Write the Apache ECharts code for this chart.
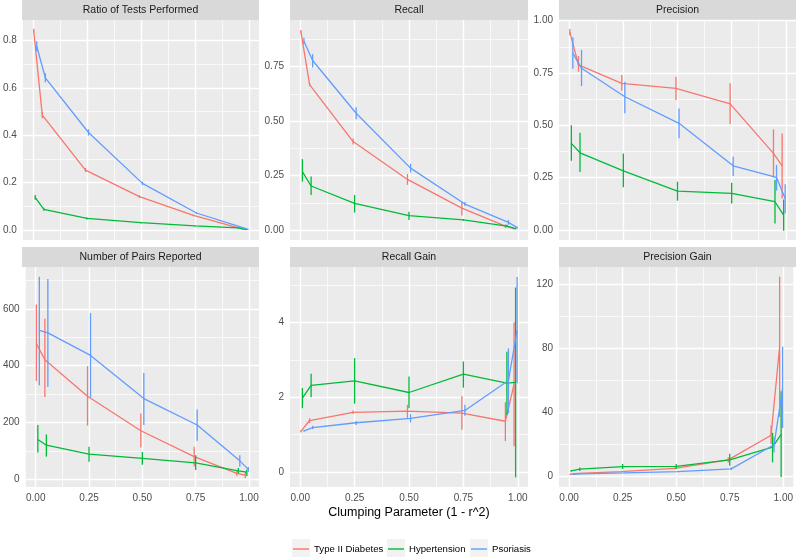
<!DOCTYPE html>
<html><head><meta charset="utf-8">
<script src="https://cdn.jsdelivr.net/npm/echarts@6/dist/echarts.min.js"></script>
<style>html,body{margin:0;padding:0;background:#fff}#c{width:796px;height:558px}</style>
</head><body><div id="c"></div>
<script>
// ---------- data ----------
const clumpX = [0.01, 0.05, 0.25, 0.5, 0.75, 0.95, 0.99];
const groupNames = ['Type II Diabetes', 'Hypertension', 'Psoriasis'];
const groupColors = ['#F8766D', '#00BA38', '#619CFF'];
const dodge = [-0.007, 0, 0.007];
const panelTitles = ['Ratio of Tests Performed', 'Recall', 'Precision', 'Number of Pairs Reported', 'Recall Gain', 'Precision Gain'];

const xTicks = [0, 0.25, 0.5, 0.75, 1];
const xTickLabels = ['0.00', '0.25', '0.50', '0.75', '1.00'];
const xMinor = [0.125, 0.375, 0.625, 0.875];
const xRange = [-0.047, 1.047];

// each row: [mean, lower, upper]
const ratioT2D = [[0.842,0.834,0.850],[0.485,0.472,0.498],[0.253,0.245,0.262],[0.141,0.136,0.147],[0.062,0.058,0.066],[0.011,0.008,0.014],[0.002,0.001,0.003]];
const ratioHT  = [[0.138,0.128,0.148],[0.087,0.081,0.094],[0.049,0.045,0.053],[0.031,0.028,0.034],[0.018,0.016,0.020],[0.009,0.008,0.010],[0.002,0.001,0.003]];
const ratioPso = [[0.776,0.755,0.797],[0.643,0.624,0.662],[0.412,0.399,0.425],[0.197,0.190,0.204],[0.072,0.068,0.076],[0.014,0.012,0.016],[0.003,0.002,0.004]];

const recallT2D = [[0.912,0.905,0.918],[0.667,0.660,0.675],[0.406,0.393,0.420],[0.232,0.207,0.257],[0.100,0.066,0.132],[0.018,0.010,0.026],[0.006,0.003,0.009]];
const recallHT  = [[0.268,0.222,0.325],[0.202,0.161,0.245],[0.122,0.080,0.161],[0.066,0.046,0.084],[0.046,0.042,0.050],[0.018,0.012,0.024],[0.006,0.002,0.010]];
const recallPso = [[0.866,0.853,0.882],[0.778,0.746,0.807],[0.536,0.508,0.563],[0.284,0.264,0.304],[0.119,0.110,0.128],[0.035,0.024,0.046],[0.011,0.006,0.016]];

const precT2D = [[0.945,0.930,0.960],[0.788,0.756,0.831],[0.700,0.665,0.740],[0.676,0.620,0.732],[0.602,0.506,0.700],[0.365,0.250,0.480],[0.306,0.150,0.460]];
const precHT  = [[0.413,0.330,0.500],[0.368,0.276,0.464],[0.282,0.203,0.365],[0.185,0.139,0.230],[0.174,0.126,0.225],[0.134,0.030,0.238],[0.070,-0.005,0.145]];
const precPso = [[0.844,0.770,0.920],[0.772,0.687,0.860],[0.636,0.557,0.708],[0.509,0.437,0.580],[0.306,0.257,0.349],[0.250,0.187,0.310],[0.150,0.078,0.218]];

const pairsT2D = [[477,346,615],[421,290,565],[292,189,398],[171,112,232],[80,45,115],[21,12,30],[15,4,27]];
const pairsHT  = [[140,94,191],[120,80,158],[89,62,115],[74,51,96],[58,33,85],[30,21,40],[25,12,35]];
const pairsPso = [[524,331,713],[515,325,705],[436,288,585],[284,191,374],[191,136,246],[65,44,85],[35,27,43]];

const rgainT2D = [[1.09,1.06,1.12],[1.38,1.31,1.44],[1.60,1.56,1.65],[1.63,1.45,1.80],[1.58,1.13,2.03],[1.36,0.83,1.87],[2.35,0.69,4.01]];
const rgainHT  = [[1.98,1.71,2.25],[2.32,2.00,2.63],[2.44,1.83,3.05],[2.13,1.71,2.56],[2.62,2.26,2.96],[2.38,1.53,3.22],[2.40,-0.14,4.94]];
const rgainPso = [[1.10,1.08,1.12],[1.19,1.15,1.24],[1.32,1.26,1.37],[1.44,1.33,1.55],[1.65,1.51,1.80],[2.45,1.58,3.31],[3.80,2.38,5.22]];

const pgainT2D = [[1.0,0.9,1.1],[1.6,1.4,1.8],[2.6,2.3,2.9],[4.7,4.2,5.2],[10.0,8.3,11.7],[25.5,20.0,31.5],[81.0,37.0,125.0]];
const pgainHT  = [[3.1,2.5,3.7],[4.2,3.1,5.2],[5.8,4.2,7.5],[5.9,4.3,7.5],[10.0,6.3,13.8],[18.0,8.5,27.0],[26.0,-0.8,53.0]];
const pgainPso = [[1.0,0.9,1.1],[1.2,1.1,1.3],[1.8,1.6,2.0],[2.7,2.4,3.0],[4.4,3.6,5.2],[19.5,14.6,24.5],[55.0,30.0,81.0]];

// y scales / tick labels per panel
const ratioTicks = [0, 0.2, 0.4, 0.6, 0.8];       const ratioLabels = ['0.0','0.2','0.4','0.6','0.8'];
const recallTicks = [0, 0.25, 0.5, 0.75];          const recallLabels = ['0.00','0.25','0.50','0.75'];
const precTicks = [0, 0.25, 0.5, 0.75, 1];         const precLabels = ['0.00','0.25','0.50','0.75','1.00'];
const pairsTicks = [0, 200, 400, 600];             const pairsLabels = ['0','200','400','600'];
const rgainTicks = [0, 2, 4];                      const rgainLabels = ['0','2','4'];
const pgainTicks = [0, 40, 80, 120];               const pgainLabels = ['0','40','80','120'];
const ratioMinor = [0.1, 0.3, 0.5, 0.7];
const recallMinor = [0.125, 0.375, 0.625, 0.875];
const precMinor = [0.125, 0.375, 0.625, 0.875];
const pairsMinor = [100, 300, 500, 700];
const rgainMinor = [1, 3, 5];
const pgainMinor = [20, 60, 100];
const ratioRange = [-0.042, 0.887];
const recallRange = [-0.046, 0.964];
const precRange = [-0.049, 1.003];
const pairsRange = [-27, 747];
const rgainRange = [-0.40, 5.49];
const pgainRange = [-7.0, 131.0];

// ---------- layout / style ----------
const FONT = '"Liberation Sans", Arial, Helvetica, sans-serif';
const colLeft = [22, 290, 559];
const colWidth = [237, 238, 237];
const rowTop = [20, 267];
const panelH = 220;
const stripH = 20;
const legendKeyX = [292, 387, 470];
const MAJOR_W = 1.4, MINOR_W = 0.7;

const panels = [
  {data: [ratioT2D, ratioHT, ratioPso], ticks: ratioTicks, labels: ratioLabels, minor: ratioMinor, range: ratioRange},
  {data: [recallT2D, recallHT, recallPso], ticks: recallTicks, labels: recallLabels, minor: recallMinor, range: recallRange},
  {data: [precT2D, precHT, precPso], ticks: precTicks, labels: precLabels, minor: precMinor, range: precRange},
  {data: [pairsT2D, pairsHT, pairsPso], ticks: pairsTicks, labels: pairsLabels, minor: pairsMinor, range: pairsRange},
  {data: [rgainT2D, rgainHT, rgainPso], ticks: rgainTicks, labels: rgainLabels, minor: rgainMinor, range: rgainRange},
  {data: [pgainT2D, pgainHT, pgainPso], ticks: pgainTicks, labels: pgainLabels, minor: pgainMinor, range: pgainRange}
];

function lookup(ticks, labels, v) {
  for (let i = 0; i < ticks.length; i++) if (Math.abs(ticks[i] - v) < 1e-9) return labels[i];
  return '';
}

function renderErrorBar(params, api) {
  const x = api.value(0);
  const p1 = api.coord([x, api.value(1)]);
  const p2 = api.coord([x, api.value(2)]);
  return {
    type: 'line',
    shape: {x1: p1[0], y1: p1[1], x2: p2[0], y2: p2[1]},
    style: {stroke: api.visual('color'), lineWidth: 1.3}
  };
}

const grids = [], xAxes = [], yAxes = [], series = [], graphics = [];

panels.forEach((p, i) => {
  const col = i % 3, row = Math.floor(i / 3);
  const left = colLeft[col], top = rowTop[row], w = colWidth[col];
  const bottomRow = row === 1;
  grids.push({left: left, top: top, width: w, height: panelH, show: true,
    backgroundColor: '#ebebeb', borderWidth: 0, containLabel: false});

  const xAx = {
    gridIndex: i, type: 'value', min: xRange[0], max: xRange[1], position: 'bottom',
    axisLine: {show: false},
    axisTick: {show: bottomRow, customValues: xTicks, length: 4, lineStyle: {color: '#333333', width: 1}},
    axisLabel: {show: bottomRow, customValues: xTicks, formatter: v => lookup(xTicks, xTickLabels, v),
      margin: 6, color: '#4d4d4d', fontSize: 10, fontFamily: FONT},
    splitLine: {show: false}
  };
  if (i === 4) {
    xAx.name = 'Clumping Parameter (1 - r^2)';
    xAx.nameLocation = 'middle';
    xAx.nameGap = 19;
    xAx.nameTextStyle = {color: '#000000', fontSize: 12.5, fontFamily: FONT};
  }
  xAxes.push(xAx);
  yAxes.push({
    gridIndex: i, type: 'value', min: p.range[0], max: p.range[1], position: 'left',
    axisLine: {show: false},
    axisTick: {show: true, customValues: p.ticks, length: 4, lineStyle: {color: '#333333', width: 1}},
    axisLabel: {show: true, customValues: p.ticks, formatter: v => lookup(p.ticks, p.labels, v),
      margin: 6, color: '#4d4d4d', fontSize: 10, fontFamily: FONT},
    splitLine: {show: false}
  });

  // panel grid lines (white major + minor), drawn through the axes' scales
  const gridLines = [];
  p.minor.forEach(v => gridLines.push({yAxis: v, lineStyle: {width: MINOR_W}}));
  xMinor.forEach(v => gridLines.push({xAxis: v, lineStyle: {width: MINOR_W}}));
  p.ticks.forEach(v => gridLines.push({yAxis: v, lineStyle: {width: MAJOR_W}}));
  xTicks.forEach(v => gridLines.push({xAxis: v, lineStyle: {width: MAJOR_W}}));
  series.push({
    type: 'line', xAxisIndex: i, yAxisIndex: i, data: [[0.5, p.range[0]]],
    symbol: 'none', showSymbol: false, silent: true, animation: false, z: 1,
    lineStyle: {opacity: 0},
    markLine: {
      z: 1, zlevel: 0,
      silent: true, animation: false, symbol: ['none', 'none'], precision: 6,
      label: {show: false}, emphasis: {disabled: true},
      lineStyle: {color: '#ffffff', type: 'solid', opacity: 1},
      data: gridLines
    }
  });

  p.data.forEach((arr, g) => {
    const color = groupColors[g];
    series.push({
      type: 'line', name: groupNames[g], xAxisIndex: i, yAxisIndex: i,
      data: arr.map((d, k) => [clumpX[k] + dodge[g], d[0]]),
      symbol: 'none', showSymbol: false, silent: true, animation: false, clip: false,
      lineStyle: {color: color, width: 1.3}, itemStyle: {color: color}, z: 10 + g
    });
    series.push({
      type: 'custom', name: groupNames[g], xAxisIndex: i, yAxisIndex: i,
      data: arr.map((d, k) => [clumpX[k] + dodge[g], d[1], d[2]]),
      encode: {x: 0, y: [1, 2]}, renderItem: renderErrorBar,
      silent: true, animation: false, clip: false, itemStyle: {color: color}, z: 10 + g
    });
  });

  // facet strip
  graphics.push({type: 'rect', shape: {x: left, y: top - stripH, width: w, height: stripH},
    style: {fill: '#d9d9d9'}, silent: true, z: 0});
  graphics.push({type: 'text', x: left + w / 2, y: top - stripH / 2,
    style: {text: panelTitles[i], fill: '#1a1a1a', fontSize: 10.5, fontFamily: FONT,
      align: 'center', verticalAlign: 'middle'}, silent: true, z: 1});
});

// legend key backgrounds
legendKeyX.forEach(x => {
  graphics.push({type: 'rect', shape: {x: x, y: 539, width: 18, height: 18},
    style: {fill: '#f2f2f2'}, silent: true, z: 0});
});

const legends = groupNames.map((n, g) => ({
  data: [n], left: legendKeyX[g] + 1, top: 544, padding: 0,
  itemWidth: 16, itemHeight: 1.4, icon: 'rect', selectedMode: false,
  textStyle: {color: '#000000', fontSize: 9.6, fontFamily: FONT}
}));

const chart = echarts.init(document.getElementById('c'), null, {renderer: 'canvas'});
chart.setOption({
  animation: false,
  backgroundColor: '#ffffff',
  grid: grids,
  xAxis: xAxes,
  yAxis: yAxes,
  legend: legends,
  graphic: graphics,
  series: series
});
</script>
</body></html>
